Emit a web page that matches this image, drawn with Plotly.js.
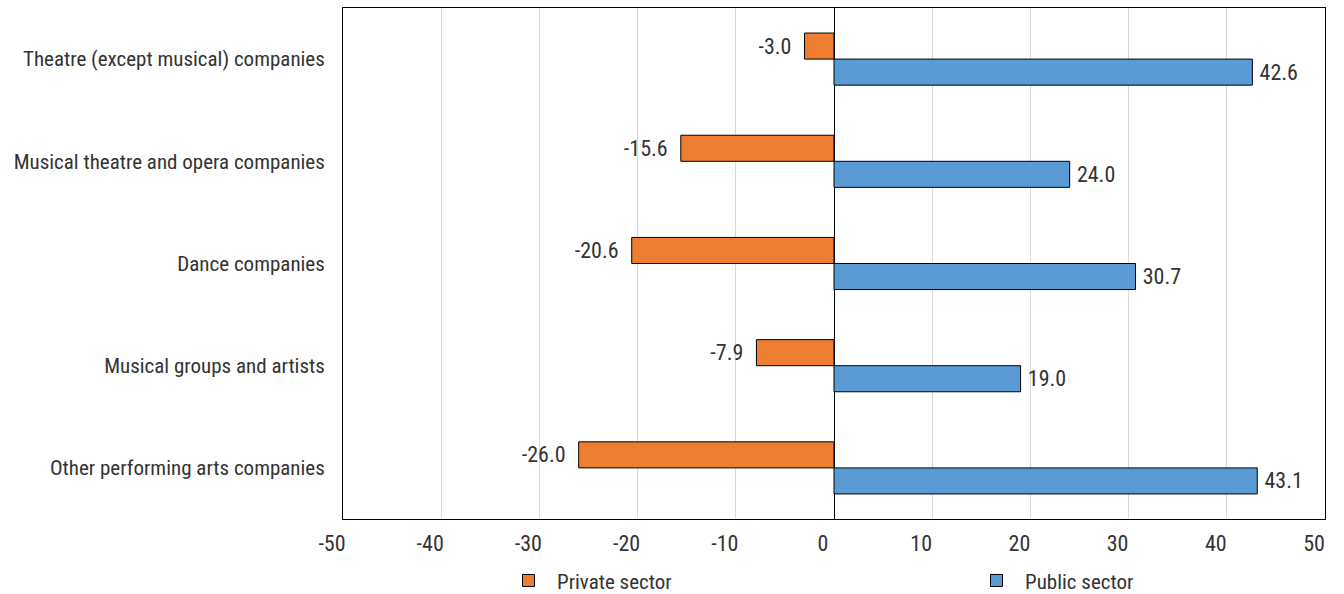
<!DOCTYPE html>
<html>
<head>
<meta charset="utf-8">
<script src="https://cdn.plot.ly/plotly-3.0.1.min.js"></script>
<style>html,body{margin:0;padding:0;background:#fff;}#chart{width:1344px;height:594px;}</style>
</head>
<body>
<div id="chart"></div>
<script>
const categories = [
  "Theatre (except musical) companies",
  "Musical theatre and opera companies",
  "Dance companies",
  "Musical groups and artists",
  "Other performing arts companies"
];
const privateSector = [-3.0, -15.6, -20.6, -7.9, -26.0];
const publicSector = [42.6, 24.0, 30.7, 19.0, 43.1];
const tickValues = [-50, -40, -30, -20, -10, 0, 10, 20, 30, 40, 50];

const FONT = '"Roboto Condensed", "Liberation Sans Narrow", Roboto, sans-serif';
const TXT = '#333333';

const traces = [
  {
    type: 'bar', orientation: 'h', name: 'Private sector', legend: 'legend',
    y: categories, x: privateSector,
    marker: {color: '#ED7D31', line: {color: '#000000', width: 1}},
    text: privateSector.map(v => v.toFixed(1) + '\u00a0\u00a0'), textposition: 'outside',
    textfont: {family: FONT, size: 22, color: TXT}, cliponaxis: false
  },
  {
    type: 'bar', orientation: 'h', name: 'Public sector', legend: 'legend2',
    y: categories, x: publicSector,
    marker: {color: '#5B9BD5', line: {color: '#000000', width: 1}},
    text: publicSector.map(v => '\u2009' + v.toFixed(1)), textposition: 'outside',
    textfont: {family: FONT, size: 22, color: TXT}, cliponaxis: false
  }
];

const legendBase = {
  orientation: 'h', yanchor: 'middle', y: -0.121, xanchor: 'left', itemwidth: 47,
  font: {family: FONT, size: 21, color: TXT}, bgcolor: 'rgba(0,0,0,0)'
};

const layout = {
  width: 1344, height: 594,
  margin: {l: 343, r: 19, t: 8, b: 75, autoexpand: false},
  paper_bgcolor: '#ffffff', plot_bgcolor: '#ffffff',
  font: {family: FONT, size: 21, color: TXT},
  barmode: 'group', bargap: 0.49, bargroupgap: 0,
  xaxis: {
    range: [-50, 50], tickvals: tickValues, ticktext: tickValues.map(String),
    showgrid: true, gridcolor: '#d9d9d9', gridwidth: 1,
    zeroline: true, zerolinecolor: '#000000', zerolinewidth: 1,
    showline: true, linecolor: '#000000', linewidth: 1, mirror: true,
    ticks: '', ticklabelshift: -11, ticklabelstandoff: 5,
    tickfont: {family: FONT, size: 22, color: TXT}, automargin: false
  },
  yaxis: {
    autorange: 'reversed', type: 'category',
    showline: true, linecolor: '#000000', linewidth: 1, mirror: true,
    ticks: '', ticklabelstandoff: 13, automargin: false,
    tickfont: {family: FONT, size: 21, color: TXT}
  },
  showlegend: true,
  legend: Object.assign({}, legendBase, {x: (500 - 343) / 982}),
  legend2: Object.assign({}, legendBase, {x: (968 - 343) / 982})
};

Plotly.newPlot('chart', traces, layout, {displayModeBar: false, staticPlot: true});
</script>
</body>
</html>
